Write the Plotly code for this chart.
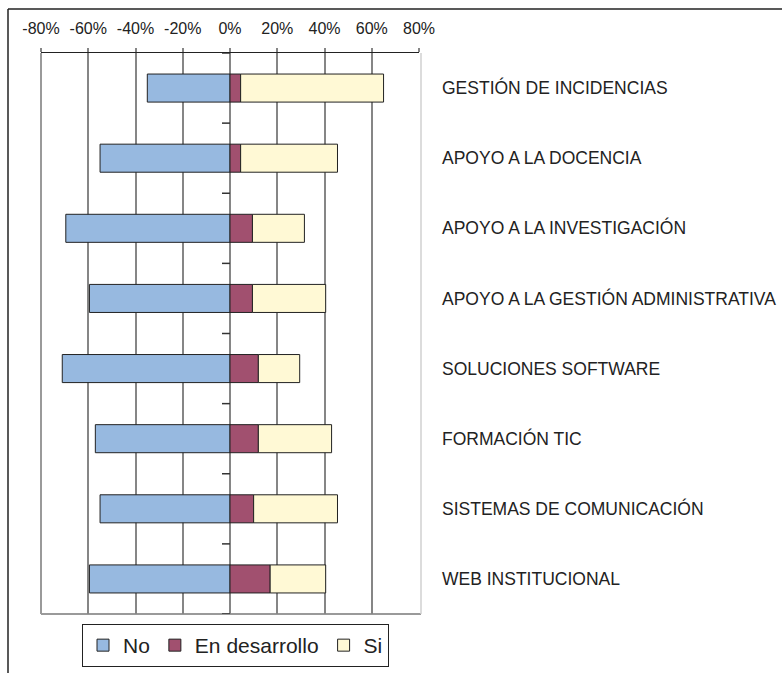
import plotly.graph_objects as go

categories = [
    "GESTIÓN DE INCIDENCIAS",
    "APOYO A LA DOCENCIA",
    "APOYO A LA INVESTIGACIÓN",
    "APOYO A LA GESTIÓN ADMINISTRATIVA",
    "SOLUCIONES SOFTWARE",
    "FORMACIÓN TIC",
    "SISTEMAS DE COMUNICACIÓN",
    "WEB INSTITUCIONAL",
]
no_vals = [35, 55, 69.5, 59.5, 71, 57, 55, 59.5]
desarrollo_vals = [4.5, 4.5, 9.5, 9.5, 12, 12, 10, 17]
si_vals = [60.5, 41, 22, 31, 17.5, 31, 35.5, 23.5]
tick_vals = [-80, -60, -40, -20, 0, 20, 40, 60, 80]
tick_text = ["-80%", "-60%", "-40%", "-20%", "0%", "20%", "40%", "60%", "80%"]

W, H = 782, 673
L, R, T, B = 41, 782 - 419, 53, 673 - 614
pw, ph = W - L - R, H - T - B

FONT = "Liberation Sans, Arial, sans-serif"
line_style = dict(color="#222222", width=1)

fig = go.Figure()
fig.add_trace(go.Bar(y=categories, x=[-v for v in no_vals], name="No", orientation="h",
                     marker=dict(color="#97B9E0", line=line_style), width=0.4))
fig.add_trace(go.Bar(y=categories, x=desarrollo_vals, name="En desarrollo", orientation="h",
                     marker=dict(color="#A1506F", line=line_style), width=0.4))
fig.add_trace(go.Bar(y=categories, x=si_vals, name="Si", orientation="h",
                     marker=dict(color="#FFF9D5", line=line_style), width=0.4))

def px_x(p):
    return (p - L) / pw

def px_y(p):
    return (H - B - p) / ph

shapes = []
shapes.append(dict(type="line", xref="paper", yref="paper", x0=0, x1=0, y0=0, y1=1,
                   line=dict(color="#9a9a9a", width=2), layer="below"))
shapes.append(dict(type="line", xref="paper", yref="paper", x0=0, x1=px_x(421), y0=0, y1=0,
                   line=dict(color="#9a9a9a", width=2), layer="below"))
shapes.append(dict(type="line", xref="paper", yref="paper", x0=px_x(421), x1=px_x(421), y0=0, y1=1,
                   line=dict(color="#d0d0d0", width=1.5), layer="below"))
shapes.append(dict(type="line", xref="paper", yref="paper", x0=px_x(8), x1=px_x(782), y0=px_y(9), y1=px_y(9),
                   line=dict(color="#222222", width=1.5)))
shapes.append(dict(type="line", xref="paper", yref="paper", x0=px_x(8), x1=px_x(8), y0=px_y(9), y1=px_y(673),
                   line=dict(color="#222222", width=1.5)))
tick_len_units = 8 / (pw / 160)
for i in range(len(categories) + 1):
    b = i - 0.5
    shapes.append(dict(type="line", xref="x", yref="y", x0=-tick_len_units, x1=0, y0=b, y1=b,
                       line=dict(color="#333333", width=1.5)))

fig.update_layout(
    width=W, height=H,
    margin=dict(l=L, r=R, t=T, b=B, pad=0, autoexpand=False),
    paper_bgcolor="white", plot_bgcolor="white",
    barmode="relative",
    font=dict(family=FONT, color="#222222"),
    shapes=shapes,
    showlegend=True,
    legend=dict(orientation="h", x=px_x(82), xanchor="left", y=px_y(624), yanchor="top",
                bordercolor="#222222", borderwidth=1, bgcolor="white",
                font=dict(size=21, family=FONT, color="#222222"),
                traceorder="normal", itemwidth=30),
    xaxis=dict(side="top", range=[-80, 80], tickmode="array", tickvals=tick_vals, ticktext=tick_text,
               showgrid=True, gridcolor="#868686", gridwidth=1.5, zeroline=False,
               showline=True, linecolor="#222222", linewidth=1,
               ticks="outside", ticklen=4, tickcolor="#868686", tickwidth=1.5,
               tickfont=dict(size=16, family=FONT, color="#222222"), ticklabelstandoff=8,
               automargin=False, fixedrange=True),
    yaxis=dict(side="right", categoryorder="array", categoryarray=categories,
               range=[len(categories) - 0.5, -0.5], showgrid=False, zeroline=False,
               showline=False, ticks="", ticklabelstandoff=22, automargin=False,
               tickfont=dict(size=17.5, family=FONT, color="#222222"), fixedrange=True),
)

post = """
var gd = document.getElementById('{plot_id}');
gd.style.position='fixed'; gd.style.left='0px'; gd.style.top='0px';
document.body.style.margin='0'; document.body.style.overflow='hidden';
"""
fig.write_html("out.html", post_script=post, config={"displayModeBar": False})
